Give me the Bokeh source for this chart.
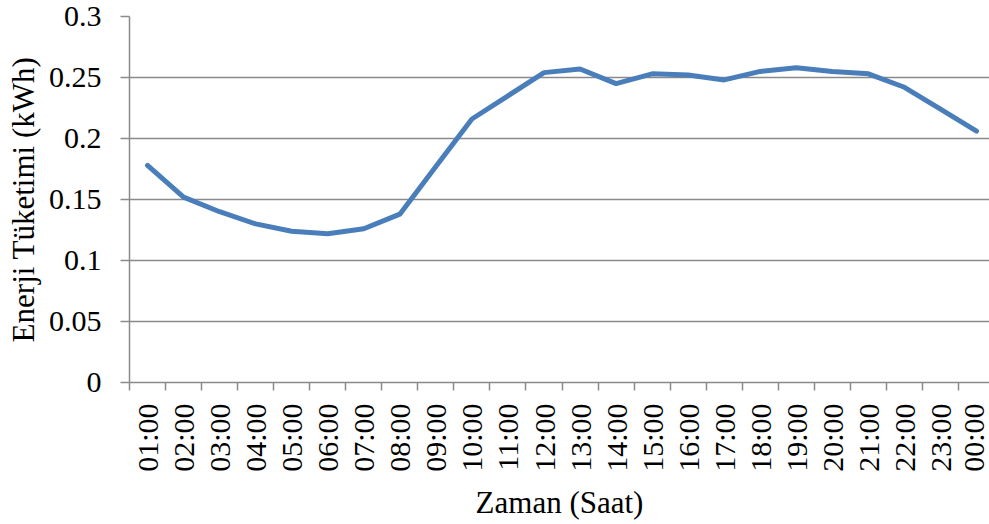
from bokeh.plotting import figure
from bokeh.models import Range1d, FixedTicker, ColumnDataSource
from bokeh.embed import file_html
from bokeh.resources import INLINE
import math

hours = ["01:00", "02:00", "03:00", "04:00", "05:00", "06:00", "07:00", "08:00",
         "09:00", "10:00", "11:00", "12:00", "13:00", "14:00", "15:00", "16:00",
         "17:00", "18:00", "19:00", "20:00", "21:00", "22:00", "23:00", "00:00"]
energy = [0.178, 0.152, 0.140, 0.130, 0.124, 0.122, 0.126, 0.138,
          0.177, 0.216, 0.235, 0.254, 0.257, 0.245, 0.253, 0.252,
          0.248, 0.255, 0.258, 0.255, 0.253, 0.242, 0.224, 0.206]
y_ticks = [0, 0.05, 0.1, 0.15, 0.2, 0.25, 0.3]
y_tick_labels = ["0", "0.05", "0.1", "0.15", "0.2", "0.25", "0.3"]

pos = list(range(1, len(hours) + 1))
src = ColumnDataSource(dict(x=pos, y=energy))

FONT = "'Liberation Serif', 'Times New Roman', serif"
GRID = "#8a8a8a"

p = figure(width=989, height=522, output_backend="svg", toolbar_location=None,
           x_range=Range1d(0.5, 24.36), y_range=Range1d(0, 0.3),
           min_border_left=129, min_border_top=16, min_border_right=0,
           min_border_bottom=139)
p.outline_line_color = None
p.background_fill_color = "white"
p.border_fill_color = "white"

p.line("x", "y", source=src, line_color="#4a7ebb", line_width=5,
       line_join="round", line_cap="round")

# x axis
xa = p.xaxis[0]
xa.ticker = FixedTicker(ticks=pos, minor_ticks=[i + 0.5 for i in range(0, len(hours) + 1)])
xa.major_label_overrides = {i: h for i, h in zip(pos, hours)}
xa.major_label_orientation = math.pi / 2
xa.major_tick_line_color = None
xa.minor_tick_line_color = GRID
xa.minor_tick_line_width = 1.5
xa.minor_tick_out = 8
xa.minor_tick_in = 0
xa.major_label_standoff = 13
xa.axis_line_color = GRID
xa.axis_line_width = 1.5
xa.major_label_text_font = FONT
xa.major_label_text_font_size = "30px"
xa.major_label_text_color = "black"
xa.axis_label = "Zaman (Saat)"
xa.axis_label_text_font = FONT
xa.axis_label_text_font_size = "31px"
xa.axis_label_text_font_style = "normal"
xa.axis_label_text_color = "black"
xa.axis_label_standoff = 10

# y axis
ya = p.yaxis[0]
ya.ticker = FixedTicker(ticks=y_ticks, minor_ticks=[])
ya.major_label_overrides = {t: l for t, l in zip(y_ticks, y_tick_labels)}
ya.major_tick_line_color = GRID
ya.major_tick_line_width = 1.5
ya.major_tick_out = 9
ya.major_tick_in = 0
ya.major_label_standoff = 19
ya.axis_line_color = GRID
ya.axis_line_width = 1.5
ya.major_label_text_font = FONT
ya.major_label_text_font_size = "30px"
ya.major_label_text_color = "black"
ya.axis_label = "Enerji Tüketimi (kWh)"
ya.axis_label_text_font = FONT
ya.axis_label_text_font_size = "31px"
ya.axis_label_text_font_style = "normal"
ya.axis_label_text_color = "black"
ya.axis_label_standoff = 5

p.xgrid.grid_line_color = None
p.ygrid.grid_line_color = GRID
p.ygrid.grid_line_width = 1.5

open("out.html", "w").write(file_html(p, INLINE))
